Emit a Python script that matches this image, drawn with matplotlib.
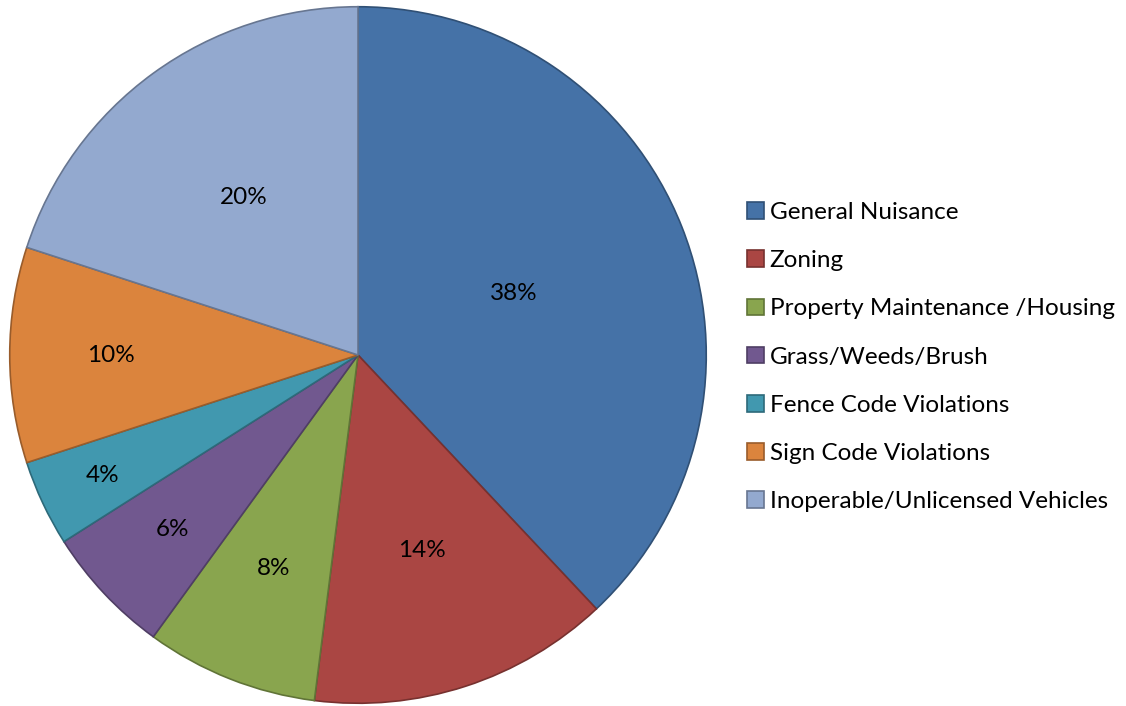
import numpy as np
import matplotlib
matplotlib.use("Agg")
import matplotlib.pyplot as plt
import matplotlib.colors as mcolors

categories = ["General Nuisance", "Zoning", "Property Maintenance /Housing",
              "Grass/Weeds/Brush", "Fence Code Violations", "Sign Code Violations",
              "Inoperable/Unlicensed Vehicles"]
shares = [38, 14, 8, 6, 4, 10, 20]
pct_labels = ["38%", "14%", "8%", "6%", "4%", "10%", "20%"]

colors = ["#4572A7", "#AA4643", "#89A54E", "#71588F", "#4198AF", "#DB843D", "#93A9CF"]
label_radius = [0.48, 0.59, 0.66, 0.73, 0.81, 0.71, 0.56]

def darker(c, f=0.7):
    r, g, b = mcolors.to_rgb(c)
    return (r * f, g * f, b * f)

plt.rcParams['font.family'] = ['Lato', 'DejaVu Sans']

W, H = 1126, 706
fig = plt.figure(figsize=(W / 100, H / 100), dpi=100)
cx, cy, R = 358, 355, 350
ax = fig.add_axes([(cx - R) / W, (H - cy - R) / H, 2 * R / W, 2 * R / H])

wedges, _ = ax.pie(shares, colors=colors, startangle=90, counterclock=False,
                   radius=1.0, wedgeprops=dict(linewidth=1.2))
for w, c in zip(wedges, colors):
    w.set_edgecolor(darker(c))

for w, lab, r in zip(wedges, pct_labels, label_radius):
    mid = np.deg2rad((w.theta1 + w.theta2) / 2)
    ax.text(r * np.cos(mid), r * np.sin(mid), lab, ha="center", va="center",
            fontsize=17.5, color="black")

ax.set_xlim(-1.005, 1.005)
ax.set_ylim(-1.005, 1.005)
ax.set_aspect("equal")
ax.axis("off")

handles = [plt.Rectangle((0, 0), 1, 1, facecolor=c, edgecolor=darker(c), linewidth=1.2)
           for c in colors]
leg = fig.legend(handles, categories, loc="upper left",
                 bbox_to_anchor=(747 / W, 1 - 202 / H), frameon=False,
                 fontsize=17.5, handlelength=0.68, handleheight=0.68,
                 handletextpad=0.25, labelspacing=1.12, borderaxespad=0,
                 borderpad=0)

fig.savefig("out.png", dpi=100)
